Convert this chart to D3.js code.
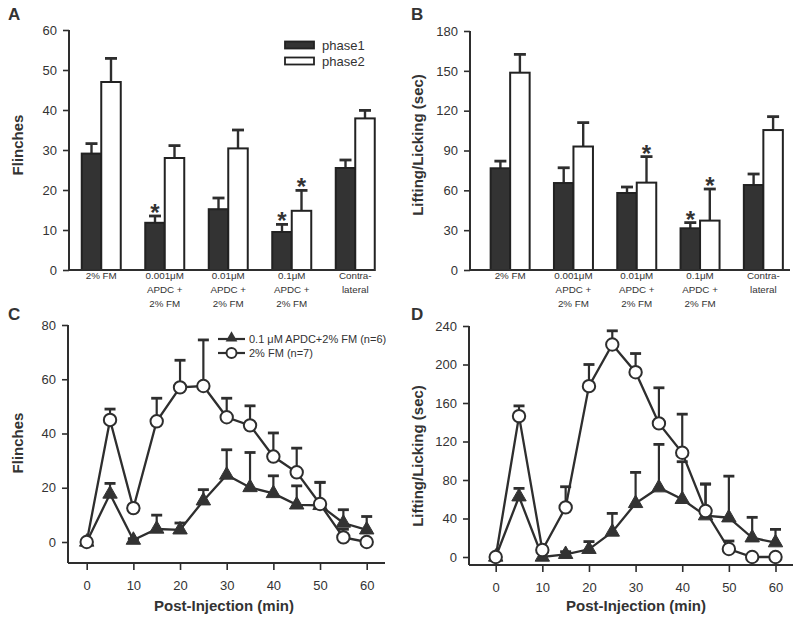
<!DOCTYPE html>
<html><head><meta charset="utf-8">
<script src="https://cdn.jsdelivr.net/npm/d3@7"></script>
<style>
body{margin:0;background:#fff;}
svg{display:block;font-family:"Liberation Sans",Arial,sans-serif;}
</style></head><body>
<svg id="chart" width="800" height="629"></svg>
<script>
// ---------- data ----------
const categories = ["2% FM","0.001µM APDC + 2% FM","0.01µM APDC + 2% FM","0.1µM APDC + 2% FM","Contra-lateral"];
const categoryLabelLines = [["2% FM"],["0.001\u03BCM","APDC +","2% FM"],["0.01\u03BCM","APDC +","2% FM"],["0.1\u03BCM","APDC +","2% FM"],["Contra-","lateral"]];
const phases = ["phase1","phase2"];

const flinchPhase1    = [29.1, 11.8, 15.2, 9.5, 25.5];
const flinchPhase1Err = [2.5, 1.7, 2.8, 1.9, 2.0];
const flinchPhase1Sig = [false, true, false, true, false];
const flinchPhase2    = [47.0, 28.0, 30.4, 14.8, 37.9];
const flinchPhase2Err = [5.9, 3.1, 4.6, 5.1, 2.0];
const flinchPhase2Sig = [false, false, false, true, false];

const lickPhase1    = [76.6, 65.5, 58.0, 31.4, 64.0];
const lickPhase1Err = [5.4, 11.5, 4.5, 4.3, 8.3];
const lickPhase1Sig = [false, false, false, true, false];
const lickPhase2    = [148.6, 93.0, 65.8, 37.2, 105.4];
const lickPhase2Err = [13.8, 18.0, 19.6, 23.8, 10.1];
const lickPhase2Sig = [false, false, true, true, false];

const times = [0,5,10,15,20,25,30,35,40,45,50,55,60];
const seriesNames = ["0.1 \u03BCM APDC+2% FM (n=6)", "2% FM (n=7)"];

const apdcFlinch    = [0, 17.7, 0.7, 4.8, 4.5, 15.2, 24.7, 20.1, 17.9, 13.7, 13.5, 7.0, 4.5];
const apdcFlinchErr = [0, 3.9, 0.5, 5.1, 2.5, 4.1, 9.3, 12.9, 6.5, 7.0, 8.5, 4.9, 4.9];
const fmFlinch      = [0, 45.0, 12.5, 44.5, 57.0, 57.5, 46.0, 43.0, 31.5, 25.7, 14.0, 1.7, 0];
const fmFlinchErr   = [0, 4.0, 1.0, 8.5, 10.0, 17.0, 7.0, 7.2, 8.7, 8.9, 8.0, 3.0, 0];

const apdcLick    = [0, 62.6, 0, 2.8, 8.0, 26.0, 55.7, 72.0, 59.9, 42.9, 40.8, 20.0, 14.9];
const apdcLickErr = [0, 8.7, 0, 2.7, 8.0, 19.3, 32.2, 45.0, 39.1, 32.9, 43.2, 21.2, 13.8];
const fmLick      = [0, 146.4, 7.3, 51.6, 177.5, 220.8, 192.0, 138.8, 108.3, 47.8, 8.3, 0, 0];
const fmLickErr   = [0, 10.6, 2.0, 21.4, 22.5, 14.2, 19.4, 37.0, 40.1, 28.0, 8.3, 0, 0];

const yTicksA = [0,10,20,30,40,50,60],  yMinorA = d3.range(0,61,5);
const yTicksB = [0,30,60,90,120,150,180], yMinorB = d3.range(0,181,15);
const yTicksC = [0,20,40,60,80], yMinorC = d3.range(0,81,10);
const yTicksD = [0,40,80,120,160,200,240], yMinorD = d3.range(0,241,20);
const xTicksT = [0,10,20,30,40,50,60], xMinorT = d3.range(0,61,5);

// ---------- drawing ----------
const svg = d3.select("#chart");
const INK = "#2e2e2e", TXT = "#333";

function yAxis(g, y, majors, minors, x, yTop, yBottom) {
  const ax = g.append("g").attr("transform", `translate(${x},0)`);
  ax.call(d3.axisLeft(y).tickValues(minors).tickFormat("").tickSize(4).tickSizeOuter(0));
  ax.call(d3.axisLeft(y).tickValues(majors).tickSize(6).tickPadding(6).tickSizeOuter(0));
  ax.selectAll(".domain").remove();
  ax.selectAll("line").attr("stroke", INK).attr("stroke-width", 1.6);
  ax.selectAll("text").attr("font-size", 13).attr("fill", TXT).attr("font-family","Liberation Sans, Arial, sans-serif");
  g.append("line").attr("x1", x).attr("x2", x).attr("y1", yTop).attr("y2", yBottom)
    .attr("stroke", INK).attr("stroke-width", 2);
}

function barPanel(x0, y, axisX, axisEnd, data, sigs, errs, titleText, titleX, titleY) {
  const g = svg.append("g");
  const x1 = d3.scaleBand().domain(phases).range([x0.bandwidth()/2 - 19.5, x0.bandwidth()/2 + 19.5]);
  const yBase = y(0);
  phases.forEach((ph, j) => {
    categories.forEach((c, i) => {
      const v = data[j][i], e = errs[j][i];
      const bx = x0(c) + x1(ph), bw = x1.bandwidth();
      const cx = bx + bw/2;
      g.append("line").attr("x1", cx).attr("x2", cx).attr("y1", y(v)).attr("y2", y(v+e))
        .attr("stroke", INK).attr("stroke-width", 2.4);
      g.append("line").attr("x1", cx-6).attr("x2", cx+6).attr("y1", y(v+e)).attr("y2", y(v+e))
        .attr("stroke", INK).attr("stroke-width", 2.8);
      g.append("rect").attr("x", bx).attr("y", y(v)).attr("width", bw).attr("height", yBase - y(v))
        .attr("fill", j === 0 ? "#333" : "#fff").attr("stroke", "#222").attr("stroke-width", 2);
      if (sigs[j][i]) {
        g.append("text").attr("x", cx).attr("y", y(v+e) + 5).attr("text-anchor","middle")
          .attr("font-size", 24).attr("font-weight","bold").attr("fill", TXT).text("*");
      }
    });
  });
  g.append("line").attr("x1", axisX).attr("x2", axisEnd).attr("y1", yBase).attr("y2", yBase)
    .attr("stroke", INK).attr("stroke-width", 2);
  categories.forEach((c, i) => {
    const t = g.append("text").attr("x", x0(c) + x0.bandwidth()/2).attr("y", 279)
      .attr("text-anchor","middle").attr("font-size", 9.8).attr("fill", TXT);
    categoryLabelLines[i].forEach((ln, k) => {
      t.append("tspan").attr("x", x0(c) + x0.bandwidth()/2).attr("dy", k === 0 ? 0 : 13.8).text(ln);
    });
  });
  svg.append("text").attr("transform", `translate(${titleX},${titleY}) rotate(-90)`)
    .attr("text-anchor","middle").attr("dominant-baseline","central")
    .attr("font-size", 15).attr("font-weight","bold").attr("fill", TXT).text(titleText);
  return g;
}

// Panel A
const xA = d3.scaleBand().domain(categories).range([69.5, 387]);
const yA = d3.scaleLinear().domain([0,60]).range([270,30]);
yAxis(svg, yA, yTicksA, yMinorA, 69, 30, 270);
barPanel(xA, yA, 69, 375, [flinchPhase1, flinchPhase2], [flinchPhase1Sig, flinchPhase2Sig],
  [flinchPhase1Err, flinchPhase2Err], "Flinches", 17, 145);

// Legend A
[["phase1", "#333", 45], ["phase2", "#fff", 61]].forEach(([lab, fill, yy]) => {
  svg.append("rect").attr("x", 285).attr("y", yy-3.5).attr("width", 29).attr("height", 7)
    .attr("fill", fill).attr("stroke", "#222").attr("stroke-width", 1.8);
  svg.append("text").attr("x", 322).attr("y", yy).attr("dominant-baseline","central")
    .attr("font-size", 13).attr("fill", TXT).text(lab);
});

// Panel B
const xB = d3.scaleBand().domain(categories).range([478.5, 795]);
const yB = d3.scaleLinear().domain([0,180]).range([270,31]);
yAxis(svg, yB, yTicksB, yMinorB, 470, 31, 270);
barPanel(xB, yB, 470, 790, [lickPhase1, lickPhase2], [lickPhase1Sig, lickPhase2Sig],
  [lickPhase1Err, lickPhase2Err], "Lifting/Licking (sec)", 417, 145);

// Time-course panels
function linePanel(x, y, axisX, axisY, yTop, xEnd, majors, minors, apdc, apdcErr, fm, fmErr, title, titleX, titleY, xTitleX) {
  const g = svg.append("g");
  yAxis(g, y, majors, minors, axisX, yTop, axisY);
  const ax = g.append("g").attr("transform", `translate(0,${axisY})`);
  ax.call(d3.axisBottom(x).tickValues(xMinorT).tickFormat("").tickSize(4).tickSizeOuter(0));
  ax.call(d3.axisBottom(x).tickValues(xTicksT).tickSize(7).tickPadding(11).tickSizeOuter(0));
  ax.selectAll(".domain").remove();
  ax.selectAll("line").attr("stroke", INK).attr("stroke-width", 1.6);
  ax.selectAll("text").attr("font-size", 13).attr("fill", TXT).attr("font-family","Liberation Sans, Arial, sans-serif");
  g.append("line").attr("x1", axisX).attr("x2", xEnd).attr("y1", axisY).attr("y2", axisY)
    .attr("stroke", INK).attr("stroke-width", 2);

  const series = [{v: apdc, e: apdcErr}, {v: fm, e: fmErr}];
  series.forEach(s => {
    times.forEach((t, i) => {
      if (s.e[i] <= 0) return;
      const cx = x(t);
      g.append("line").attr("x1", cx).attr("x2", cx).attr("y1", y(s.v[i])).attr("y2", y(s.v[i] + s.e[i]))
        .attr("stroke", INK).attr("stroke-width", 2.2);
      g.append("line").attr("x1", cx-5.5).attr("x2", cx+5.5).attr("y1", y(s.v[i]+s.e[i])).attr("y2", y(s.v[i]+s.e[i]))
        .attr("stroke", INK).attr("stroke-width", 2.8);
    });
  });
  const line = d3.line().x((d,i) => x(times[i])).y(d => y(d));
  series.forEach(s => {
    g.append("path").attr("d", line(s.v)).attr("fill","none").attr("stroke", INK).attr("stroke-width", 2.3);
  });
  const tri = d3.symbol(d3.symbolTriangle, 90);
  times.forEach((t,i) => {
    g.append("path").attr("d", tri()).attr("transform", `translate(${x(t)},${y(apdc[i])})`)
      .attr("fill", "#333").attr("stroke", "#333").attr("stroke-width", 1);
  });
  times.forEach((t,i) => {
    g.append("circle").attr("cx", x(t)).attr("cy", y(fm[i])).attr("r", 6.2)
      .attr("fill", "#fff").attr("stroke", INK).attr("stroke-width", 2);
  });
  svg.append("text").attr("transform", `translate(${titleX},${titleY}) rotate(-90)`)
    .attr("text-anchor","middle").attr("dominant-baseline","central")
    .attr("font-size", 15).attr("font-weight","bold").attr("fill", TXT).text(title);
  svg.append("text").attr("x", xTitleX).attr("y", 611).attr("text-anchor","middle")
    .attr("font-size", 15).attr("font-weight","bold").attr("fill", TXT).text("Post-Injection (min)");
}

const xC = d3.scaleLinear().domain([0,60]).range([86.7, 366.7]);
const yC = d3.scaleLinear().domain([0,80]).range([542, 325]);
linePanel(xC, yC, 68, 563, 325, 385, yTicksC, yMinorC, apdcFlinch, apdcFlinchErr, fmFlinch, fmFlinchErr,
  "Flinches", 17, 443, 224);

const xD = d3.scaleLinear().domain([0,60]).range([495.7, 775.5]);
const yD = d3.scaleLinear().domain([0,240]).range([557, 326]);
linePanel(xD, yD, 469, 565, 326, 793, yTicksD, yMinorD, apdcLick, apdcLickErr, fmLick, fmLickErr,
  "Lifting/Licking (sec)", 417, 456, 636);

// Legend C
const legG = svg.append("g");
[[seriesNames[0], 339, "tri"], [seriesNames[1], 353, "circ"]].forEach(([lab, yy, kind]) => {
  legG.append("line").attr("x1", 218).attr("x2", 245).attr("y1", yy).attr("y2", yy)
    .attr("stroke", INK).attr("stroke-width", 2.2);
  if (kind === "tri") {
    legG.append("path").attr("d", d3.symbol(d3.symbolTriangle, 60)()).attr("transform", `translate(231.5,${yy-1})`)
      .attr("fill", "#333");
  } else {
    legG.append("circle").attr("cx", 231.5).attr("cy", yy).attr("r", 5).attr("fill","#fff")
      .attr("stroke", INK).attr("stroke-width", 2);
  }
  legG.append("text").attr("x", 249).attr("y", yy).attr("dominant-baseline","central")
    .attr("font-size", 11).attr("fill", TXT).text(lab);
});

// Panel letters
[["A", 8, 20], ["B", 411, 20], ["C", 8, 320], ["D", 411, 320]].forEach(([l, x, y]) => {
  svg.append("text").attr("x", x).attr("y", y).attr("font-size", 17).attr("font-weight","bold")
    .attr("fill", TXT).text(l);
});
</script>
</body></html>
